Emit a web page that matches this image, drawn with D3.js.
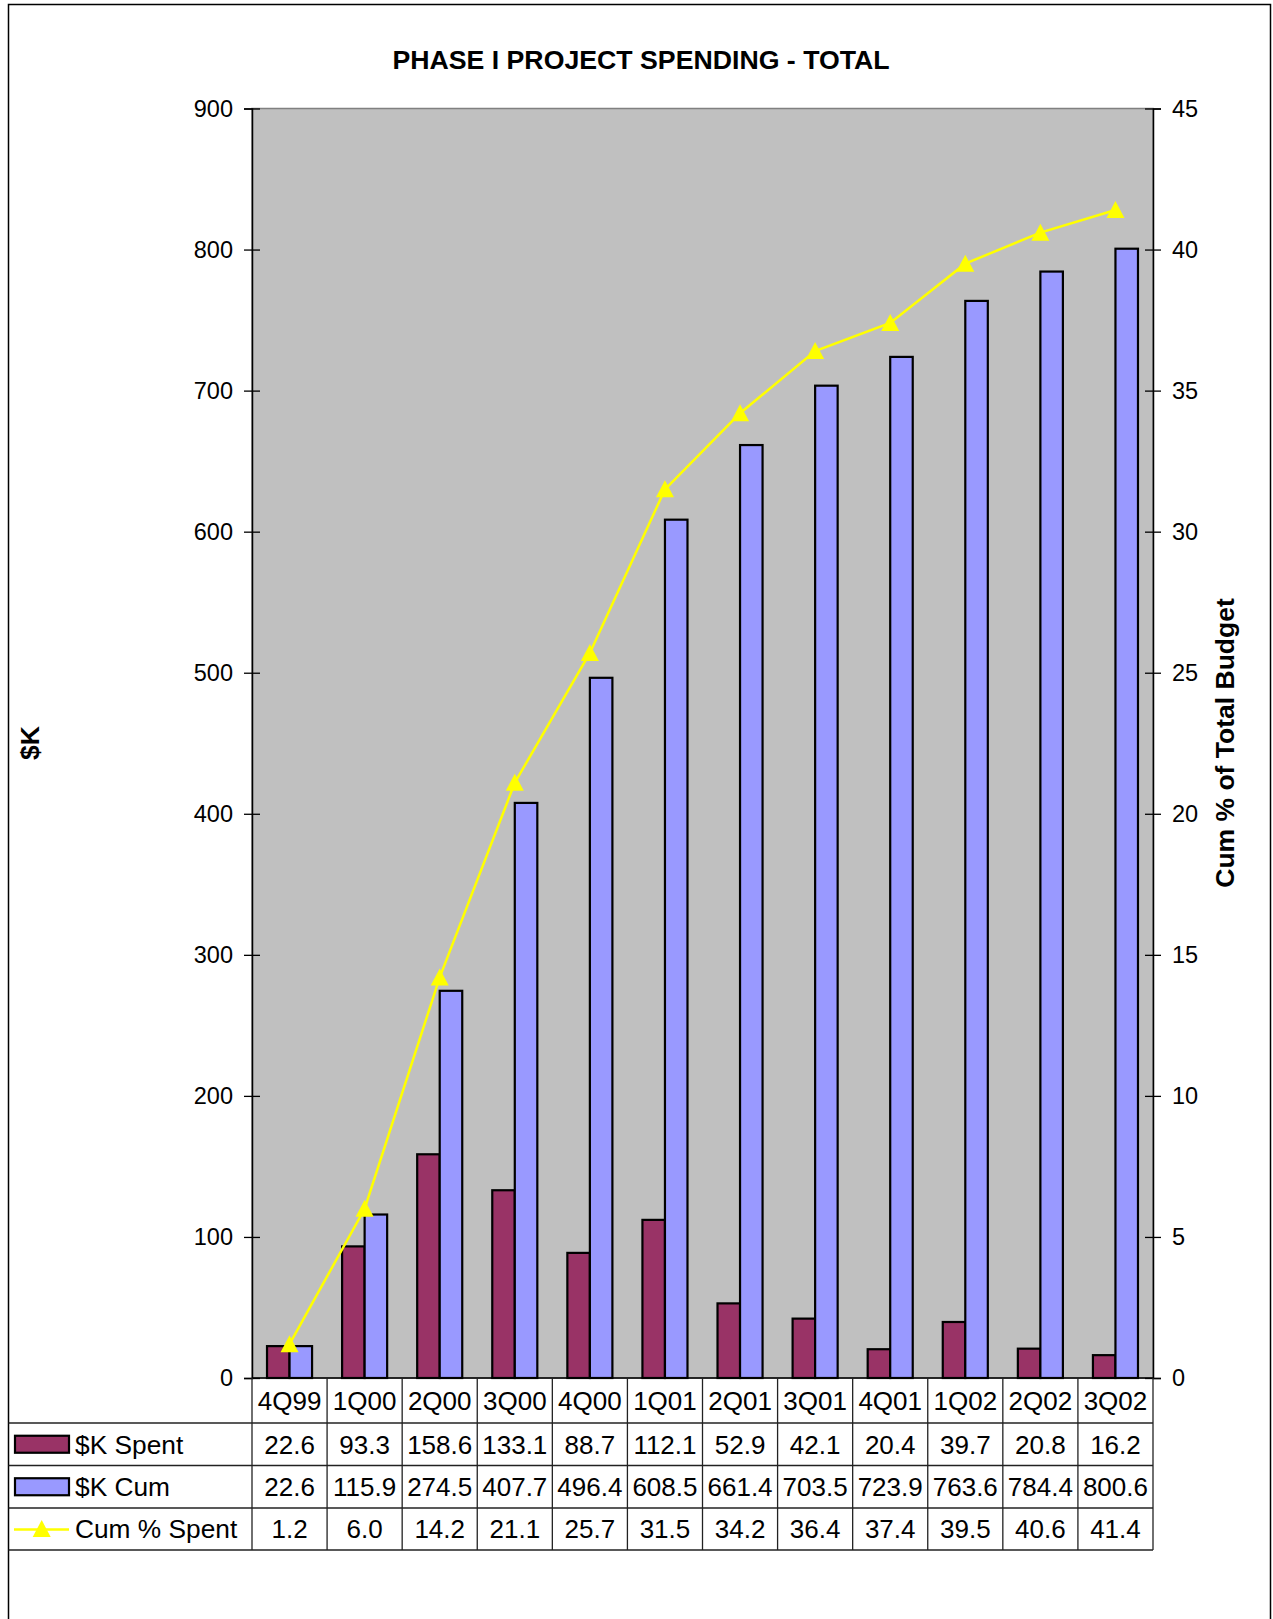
<!DOCTYPE html>
<html>
<head>
<meta charset="utf-8">
<script src="https://cdn.jsdelivr.net/npm/d3@7"></script>
<style>
  html, body { margin: 0; padding: 0; background: #fff; }
  svg { display: block; font-family: "Liberation Sans", Arial, sans-serif; }
</style>
</head>
<body>
<svg id="chart" width="1273" height="1619"></svg>
<script>
// Quarterly spending data
const quarters = ["4Q99", "1Q00", "2Q00", "3Q00", "4Q00", "1Q01", "2Q01", "3Q01", "4Q01", "1Q02", "2Q02", "3Q02"];
const spent = [22.6, 93.3, 158.6, 133.1, 88.7, 112.1, 52.9, 42.1, 20.4, 39.7, 20.8, 16.2];
const cumSpent = [22.6, 115.9, 274.5, 407.7, 496.4, 608.5, 661.4, 703.5, 723.9, 763.6, 784.4, 800.6];
const cumPct = [1.2, 6.0, 14.2, 21.1, 25.7, 31.5, 34.2, 36.4, 37.4, 39.5, 40.6, 41.4];
const leftTicks = [0, 100, 200, 300, 400, 500, 600, 700, 800, 900];
const rightTicks = [0, 5, 10, 15, 20, 25, 30, 35, 40, 45];
const seriesNames = ["$K Spent", "$K Cum", "Cum % Spent"];

const colSpent = "#993366", colCum = "#9999FF", colLine = "#FFFF00", plotBg = "#C0C0C0";

const svg = d3.select("#chart");
const plot = { left: 252, right: 1153, top: 108.5, bottom: 1378 };
const rowEdges = [1378, 1423, 1465.5, 1508, 1550];

// outer frame
svg.append("rect").attr("x", 8.5).attr("y", 4.5).attr("width", 1262).attr("height", 1640)
  .attr("fill", "none").attr("stroke", "#000").attr("stroke-width", 1.5);

// scales
const x = d3.scaleBand().domain(quarters).range([plot.left, plot.right]).paddingInner(0).paddingOuter(0);
const xs = d3.scaleBand().domain(["spent", "cum"]).range([0, x.bandwidth()]).paddingInner(0).paddingOuter(0.6667);
const yL = d3.scaleLinear().domain([0, 900]).range([plot.bottom, plot.top]);
const yR = d3.scaleLinear().domain([0, 45]).range([plot.bottom, plot.top]);

// plot background
svg.append("rect").attr("x", plot.left).attr("y", plot.top)
  .attr("width", plot.right - plot.left).attr("height", plot.bottom - plot.top)
  .attr("fill", plotBg).attr("stroke", "#808080").attr("stroke-width", 1.5);

// title
svg.append("text").attr("x", 641).attr("y", 69).attr("text-anchor", "middle")
  .attr("font-size", 26.7).attr("font-weight", "bold").text("PHASE I PROJECT SPENDING - TOTAL");

// bars
const groups = svg.append("g").selectAll("g").data(quarters).join("g")
  .attr("transform", d => `translate(${x(d)},0)`);
groups.append("rect")
  .attr("x", xs("spent")).attr("width", xs.bandwidth())
  .attr("y", (d, i) => yL(spent[i])).attr("height", (d, i) => yL(0) - yL(spent[i]))
  .attr("fill", colSpent).attr("stroke", "#000").attr("stroke-width", 2.2);
groups.append("rect")
  .attr("x", xs("cum")).attr("width", xs.bandwidth())
  .attr("y", (d, i) => yL(cumSpent[i])).attr("height", (d, i) => yL(0) - yL(cumSpent[i]))
  .attr("fill", colCum).attr("stroke", "#000").attr("stroke-width", 2.2);

// axes with crossing tick marks
const axL = svg.append("g").attr("transform", `translate(${plot.left},0)`)
  .call(d3.axisLeft(yL).tickValues(leftTicks).tickSize(8).tickPadding(11).tickFormat(d3.format("d")));
const axR = svg.append("g").attr("transform", `translate(${plot.right},0)`)
  .call(d3.axisRight(yR).tickValues(rightTicks).tickSize(8).tickPadding(11).tickFormat(d3.format("d")));
[axL, axR].forEach(ax => {
  ax.select(".domain").attr("stroke", "#000").attr("stroke-width", 1.5);
  ax.selectAll(".tick line").attr("x1", -8).attr("x2", 8).attr("stroke", "#000").attr("stroke-width", 1.3);
  ax.selectAll(".tick text").attr("font-size", 23.5).attr("font-family", "Liberation Sans, Arial, sans-serif").attr("fill", "#000");
});

// baseline
svg.append("line").attr("x1", plot.left).attr("x2", plot.right).attr("y1", plot.bottom).attr("y2", plot.bottom)
  .attr("stroke", "#000").attr("stroke-width", 1.5);

// cumulative percent line
const cx = i => x(quarters[i]) + x.bandwidth() / 2;
svg.append("path").datum(cumPct)
  .attr("d", d3.line().x((d, i) => cx(i)).y(d => yR(d)))
  .attr("fill", "none").attr("stroke", colLine).attr("stroke-width", 2.5);
const tri = (px, py) => `M${px},${py - 9}L${px + 9},${py + 8}L${px - 9},${py + 8}Z`;
svg.append("g").selectAll("path").data(cumPct).join("path")
  .attr("d", (d, i) => tri(cx(i), yR(d))).attr("fill", colLine);

// axis titles
svg.append("text").attr("transform", `translate(39,743) rotate(-90)`).attr("text-anchor", "middle")
  .attr("font-size", 26.5).attr("font-weight", "bold").text("$K");
svg.append("text").attr("transform", `translate(1234,743) rotate(-90)`).attr("text-anchor", "middle")
  .attr("font-size", 26.5).attr("font-weight", "bold").text("Cum % of Total Budget");

// data table
const tbl = svg.append("g");
rowEdges.slice(1).forEach(yy => {
  tbl.append("line").attr("x1", 8.5).attr("x2", plot.right).attr("y1", yy).attr("y2", yy)
    .attr("stroke", "#222").attr("stroke-width", 1.3);
});
quarters.forEach((q, i) => {
  tbl.append("line").attr("x1", x(q)).attr("x2", x(q)).attr("y1", rowEdges[0]).attr("y2", rowEdges[4])
    .attr("stroke", "#222").attr("stroke-width", 1.3);
});
tbl.append("line").attr("x1", plot.right).attr("x2", plot.right).attr("y1", rowEdges[0]).attr("y2", rowEdges[4])
  .attr("stroke", "#222").attr("stroke-width", 1.3);

const rowMid = k => (rowEdges[k] + rowEdges[k + 1]) / 2;
const rows = [quarters, spent.map(v => v.toFixed(1)), cumSpent.map(v => v.toFixed(1)), cumPct.map(v => v.toFixed(1))];
rows.forEach((vals, k) => {
  tbl.append("g").selectAll("text").data(vals).join("text")
    .attr("x", (d, i) => cx(i)).attr("y", rowMid(k)).attr("dy", "0.36em")
    .attr("text-anchor", "middle").attr("font-size", 26).text(d => d);
});

// legend keys in the table's first column
const leg = svg.append("g");
leg.append("rect").attr("x", 15).attr("y", rowMid(1) - 8.5).attr("width", 54).attr("height", 17)
  .attr("fill", colSpent).attr("stroke", "#000").attr("stroke-width", 2.2);
leg.append("rect").attr("x", 15).attr("y", rowMid(2) - 8.5).attr("width", 54).attr("height", 17)
  .attr("fill", colCum).attr("stroke", "#000").attr("stroke-width", 2.2);
leg.append("line").attr("x1", 14).attr("x2", 69).attr("y1", rowMid(3) + 0.5).attr("y2", rowMid(3) + 0.5)
  .attr("stroke", colLine).attr("stroke-width", 2.5);
leg.append("path").attr("d", tri(41.7, rowMid(3))).attr("fill", colLine);
seriesNames.forEach((n, k) => {
  leg.append("text").attr("x", 75).attr("y", rowMid(k + 1)).attr("dy", "0.36em")
    .attr("font-size", 26.3).text(n);
});
</script>
</body>
</html>
